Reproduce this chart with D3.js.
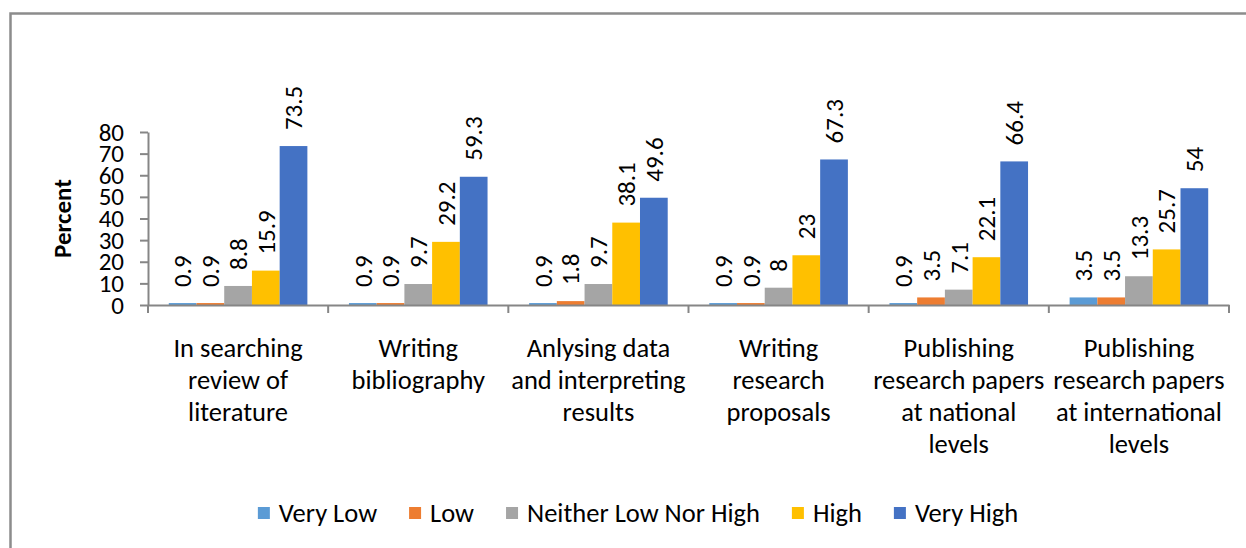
<!DOCTYPE html>
<html>
<head>
<meta charset="utf-8">
<script src="https://cdn.jsdelivr.net/npm/d3@7/dist/d3.min.js"></script>
<style>
  html, body { margin: 0; padding: 0; background: #fff; }
  svg { display: block; }
  text { font-family: Carlito, Calibri, Lato, sans-serif; fill: #000; }
</style>
</head>
<body>
<svg id="chart" width="1246" height="548"></svg>
<script>
// Survey categories (line breaks give the wrapped axis labels)
const categories = [
  "In searching\nreview of\nliterature",
  "Writing\nbibliography",
  "Anlysing data\nand interpreting\nresults",
  "Writing\nresearch\nproposals",
  "Publishing\nresearch papers\nat national\nlevels",
  "Publishing\nresearch papers\nat international\nlevels"
];

const seriesNames = ["Very Low", "Low", "Neither Low Nor High", "High", "Very High"];

const veryLow  = [0.9, 0.9, 0.9, 0.9, 0.9, 3.5];
const low      = [0.9, 0.9, 1.8, 0.9, 3.5, 3.5];
const neither  = [8.8, 9.7, 9.7, 8, 7.1, 13.3];
const high     = [15.9, 29.2, 38.1, 23, 22.1, 25.7];
const veryHigh = [73.5, 59.3, 49.6, 67.3, 66.4, 54];

const yTicks = [0, 10, 20, 30, 40, 50, 60, 70, 80];
const yLabel = "Percent";

const colors = ["#5B9BD5", "#ED7D31", "#A5A5A5", "#FFC000", "#4472C4"];

const seriesValues = [veryLow, low, neither, high, veryHigh];
const rows = categories.map((c, i) => ({
  category: c,
  values: seriesNames.map((s, k) => ({ series: s, value: seriesValues[k][i] }))
}));

const svg = d3.select("#chart");
const axisColor = "#868686";
const fontSize = 25;
const textSize = 26.5;

// outer chart frame
svg.append("rect")
  .attr("x", 10.5).attr("y", 13.5)
  .attr("width", 1300).attr("height", 600)
  .attr("fill", "none")
  .attr("stroke", "#8c8c8c")
  .attr("stroke-width", 2.5);

const plot = { left: 148, right: 1229, top: 132, bottom: 305 };

const x0 = d3.scaleBand().domain(categories).range([plot.left, plot.right]).padding(0);
const x1 = d3.scaleBand().domain(seriesNames).range([0, x0.bandwidth()])
  .paddingInner(0).paddingOuter(0.75);
const y = d3.scaleLinear().domain([0, 80]).range([plot.bottom, plot.top]);
const color = d3.scaleOrdinal().domain(seriesNames).range(colors);

// bars
const groups = svg.append("g").selectAll("g")
  .data(rows).join("g")
  .attr("transform", d => `translate(${x0(d.category)},0)`);

groups.selectAll("rect")
  .data(d => d.values).join("rect")
  .attr("x", d => x1(d.series))
  .attr("y", d => y(d.value))
  .attr("width", x1.bandwidth())
  .attr("height", d => y(0) - y(d.value))
  .attr("fill", d => color(d.series));

// rotated value labels above each bar
groups.selectAll("text.val")
  .data(d => d.values).join("text")
  .attr("class", "val")
  .attr("transform", d => `translate(${x1(d.series) + x1.bandwidth() / 2},${y(d.value) - 16}) rotate(-90)`)
  .attr("dy", "0.35em")
  .attr("text-anchor", "start")
  .style("font-size", fontSize + "px")
  .text(d => d.value);

// y axis
const yAxis = svg.append("g")
  .attr("transform", `translate(${plot.left},0)`)
  .call(d3.axisLeft(y).tickValues(yTicks).tickSize(8).tickSizeOuter(0).tickPadding(16));
yAxis.select(".domain").attr("stroke", axisColor).attr("stroke-width", 2);
yAxis.selectAll(".tick line").attr("stroke", axisColor).attr("stroke-width", 2);
yAxis.selectAll(".tick text")
  .style("font-size", fontSize + "px")
  .style("font-family", "Carlito, Calibri, Lato, sans-serif")
  .attr("fill", "#000");

// x axis with ticks between categories
const xAxis = svg.append("g")
  .attr("transform", `translate(0,${plot.bottom})`)
  .call(d3.axisBottom(x0).tickSize(0).tickSizeOuter(0).tickFormat(""));
xAxis.select(".domain").attr("stroke", axisColor).attr("stroke-width", 2);
xAxis.selectAll(".tick").remove();

const boundaries = categories.map(c => x0(c)).concat([x0.range()[1]]);
xAxis.selectAll("line.sep")
  .data(boundaries).join("line")
  .attr("class", "sep")
  .attr("x1", d => d).attr("x2", d => d)
  .attr("y1", 0).attr("y2", 8)
  .attr("stroke", axisColor).attr("stroke-width", 2);

// category labels
const catLabels = svg.append("g").selectAll("text")
  .data(categories).join("text")
  .attr("x", d => x0(d) + x0.bandwidth() / 2)
  .attr("y", 348)
  .attr("text-anchor", "middle")
  .style("font-size", textSize + "px");
catLabels.selectAll("tspan")
  .data(d => d.split("\n")).join("tspan")
  .attr("x", function () { return d3.select(this.parentNode).attr("x"); })
  .attr("dy", (d, i) => i === 0 ? "0.35em" : "32px")
  .text(d => d);

// y axis title
svg.append("text")
  .attr("transform", `translate(62,${(plot.top + plot.bottom) / 2}) rotate(-90)`)
  .attr("text-anchor", "middle")
  .attr("dy", "0.35em")
  .style("font-size", fontSize + "px")
  .style("font-weight", "bold")
  .text(yLabel);

// legend
const legend = svg.append("g");
const items = legend.selectAll("g").data(seriesNames).join("g");
items.append("rect")
  .attr("width", 12).attr("height", 12)
  .attr("y", -6)
  .attr("fill", d => color(d));
items.append("text")
  .attr("x", 21)
  .attr("dy", "0.35em")
  .style("font-size", textSize + "px")
  .text(d => d);

const widths = [];
items.each(function () {
  const w = 21 + d3.select(this).select("text").node().getComputedTextLength();
  widths.push(w);
});
const gap = 32;
const total = d3.sum(widths) + gap * (widths.length - 1);
let start = 638 - total / 2;
items.attr("transform", (d, i) => {
  const tx = start;
  start += widths[i] + gap;
  return `translate(${tx},513)`;
});
</script>
</body>
</html>
